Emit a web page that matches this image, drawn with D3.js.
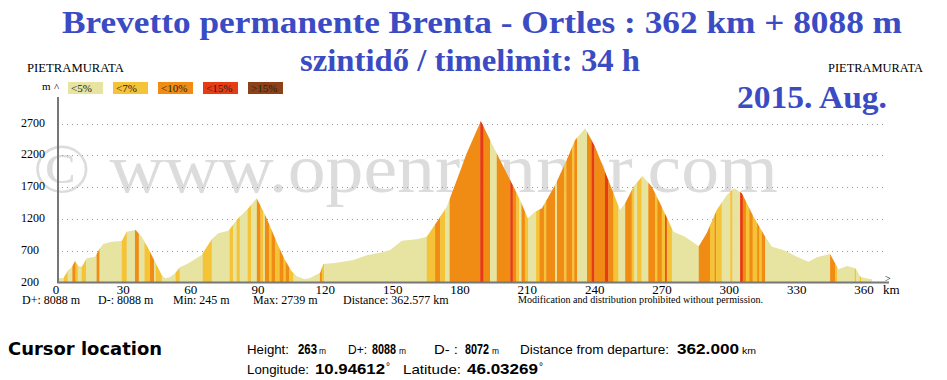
<!DOCTYPE html>
<html>
<head>
<meta charset="utf-8">
<script src="https://d3js.org/d3.v7.min.js"></script>
<style>
    html, body { margin: 0; padding: 0; background: #fff; }
    svg { display: block; }
</style>
</head>
<body>
<div id="chart"></div>
<script>
// Elevation profile (km from start, metres)
const distances = [0, 2.4, 4.6, 6.1, 7.6, 9.0, 10.6, 12.8, 16.5, 18.7, 20.2, 23.9, 28.4, 30.6, 34.6, 37.3,
    40.2, 43.2, 46.2, 47.7, 49.9, 52.1, 54.4, 58.1, 64.0, 68.5, 71.4, 75.9, 80.3, 84.8, 88.5, 92.2,
    95.0, 98.0, 101.0, 104.0, 106.4, 110.0, 112.3, 116.8, 118.2, 124.2, 131.6, 137.6, 143.5, 148.0,
    153.2, 159.8, 164.3, 168.8, 173.2, 177.7, 182.1, 188.4, 192.5, 194.7, 202.2, 205.9, 209.3, 212.6,
    215.6, 221.5, 226.0, 230.4, 234.9, 239.3, 245.2, 250.4, 252.7, 256.4, 260.4, 264.6, 269.0, 274.2,
    279.4, 285.5, 289.0, 293.5, 298.0, 301.4, 304.7, 309.9, 315.1, 318.1, 323.2, 329.2, 334.4, 338.1,
    344.0, 347.7, 351.6, 355.2, 357.5, 360.5, 362.6];
const elevations = [268, 272, 397, 439, 538, 460, 449, 580, 606, 738, 805, 842, 852, 999, 1025, 920,
    738, 527, 318, 266, 282, 345, 439, 502, 632, 879, 974, 1014, 1209, 1367, 1524, 1270,
    1040, 790, 560, 380, 300, 250, 270, 354, 491, 511, 554, 628, 669, 711,
    857, 879, 920, 1156, 1392, 1812, 2231, 2739, 2440, 2283, 1760, 1497, 1209, 1313,
    1367, 1733, 2074, 2440, 2624, 2335, 1812, 1340, 1445, 1706, 1875, 1706, 1392, 999,
    920, 770, 973, 1340, 1576, 1681, 1603, 1235, 920, 763, 711, 606, 527, 596,
    648, 407, 460, 423, 291, 263, 250];

// Gradient stripes: start km and class index (0 <5%, 1 <7%, 2 <10%, 3 <15%, 4 >15%)
const stripeStarts = [0, 2.6, 4.3, 6.4, 7.8, 8.8, 10.5, 12.5, 17.2, 18.5, 28.4, 30.6, 34.3, 36.0, 38.5,
    41.0, 42.8, 43.5, 46.2, 52.4, 54.2, 64.5, 68.5, 76.5, 78.0, 79.6, 81.0, 84.5, 86.0, 88.6, 90.2,
    91.5, 92.2, 94.0, 95.2, 96.8, 98.8, 100.5, 101.5, 103.0, 104.9, 116.7, 117.5, 118.6, 164.3, 168.0,
    170.3, 172.5, 174.5, 188.1, 189.6, 192.5, 195.5, 201.5, 202.6, 204.2, 205.5, 206.5, 208.0, 209.5,
    213.0, 214.5, 216.5, 217.5, 221.5, 222.3, 225.5, 226.5, 229.0, 230.0, 231.3, 235.7, 237.7, 239.0,
    243.7, 245.2, 247.5, 249.7, 252.7, 255.6, 256.8, 258.0, 260.0, 263.0, 266.0, 267.0, 269.0, 270.5,
    271.2, 273.5, 285.5, 290.5, 292.5, 293.2, 295.7, 299.5, 300.5, 303.9, 305.1, 306.5,
    308.0, 309.5, 311.5, 312.5, 313.6, 315.1, 344.0, 346.3, 347.2, 355.0, 355.6, 357.3, 357.8];
const stripeClasses = [0, 1, 0, 2, 1, 0, 1, 0, 2, 0, 1, 0, 2, 0, 1,
    2, 0, 1, 0, 1, 0, 1, 0, 1, 0, 1, 0, 1, 0, 2, 1,
    0, 2, 1, 2, 1, 2, 1, 2, 1, 0, 2, 1, 0, 1, 2,
    1, 0, 2, 3, 2, 0, 2, 3, 2, 1, 0, 2, 1, 0,
    1, 2, 1, 2, 0, 2, 1, 2, 1, 2, 0, 2, 3, 2,
    3, 2, 1, 0, 2, 1, 0, 1, 0, 2, 1, 2, 1, 3,
    1, 0, 2, 1, 2, 1, 0, 1, 0, 3, 2, 1,
    2, 1, 2, 1, 2, 0, 2, 1, 0, 1, 0, 1, 0];

const legendLabels = ["<5%", "<7%", "<10%", "<15%", ">15%"];
const legendColors = ["#e6e4a0", "#f5c337", "#f08c14", "#e63c14", "#8c4119"];

const yTicks = [200, 700, 1200, 1700, 2200, 2700];
const xTicks = [0, 30, 60, 90, 120, 150, 180, 210, 240, 270, 300, 330, 360];

const statLabels = ["D+: 8088 m", "D-: 8088 m", "Min: 245 m", "Max: 2739 m", "Distance: 362.577 km"];

const W = 947, H = 380;
const serif = "'Liberation Serif', 'Times New Roman', serif";
const blue = "#3b4bc4";

const svg = d3.select("#chart").append("svg")
    .attr("width", W)
    .attr("height", H);

const x = d3.scaleLinear().domain([0, 360]).range([58, 866]);
const y = d3.scaleLinear().domain([200, 2700]).range([282.5, 123.5]);

// Titles (widths fitted to the original)
const titles = [
    { t: "Brevetto permanente Brenta - Ortles : 362 km + 8088 m", x: 62, y: 33, w: 840 },
    { t: "szintidő / timelimit: 34 h", x: 300, y: 71, w: 340 },
    { t: "2015. Aug.", x: 737, y: 108, w: 150 }
];
svg.append("g").selectAll("text")
    .data(titles)
    .join("text")
    .attr("x", d => d.x).attr("y", d => d.y)
    .attr("textLength", d => d.w)
    .attr("lengthAdjust", "spacingAndGlyphs")
    .style("font", `bold 32px ${serif}`)
    .attr("fill", blue)
    .text(d => d.t);

// Start / finish town names
svg.append("text")
    .attr("x", 27).attr("y", 72)
    .attr("textLength", 97).attr("lengthAdjust", "spacingAndGlyphs")
    .style("font", `12px ${serif}`)
    .text("PIETRAMURATA");
svg.append("text")
    .attr("x", 828).attr("y", 72)
    .attr("textLength", 95).attr("lengthAdjust", "spacingAndGlyphs")
    .style("font", `12px ${serif}`)
    .text("PIETRAMURATA");

// Watermark
svg.append("text")
    .attr("x", 33).attr("y", 192)
    .attr("textLength", 745)
    .attr("lengthAdjust", "spacingAndGlyphs")
    .style("font", `70px ${serif}`)
    .attr("fill", "#dcdcdc")
    .text("© www.openrunner.com");

// Grid lines
svg.append("g").selectAll("line")
    .data(yTicks.slice(1))
    .join("line")
    .attr("x1", 62).attr("x2", 886)
    .attr("y1", d => Math.round(y(d)) + 0.5)
    .attr("y2", d => Math.round(y(d)) + 0.5)
    .attr("stroke", "#999")
    .attr("stroke-dasharray", "1,4");

// Profile: stripes clipped to the area under the elevation line
const profile = distances.map((d, i) => ({ km: d, ele: elevations[i] }));
const area = d3.area()
    .x(d => x(d.km))
    .y0(y(200))
    .y1(d => y(d.ele));

svg.append("clipPath").attr("id", "profile-clip")
    .append("path")
    .attr("d", area(profile));

const stripes = stripeStarts.map((s, i) => ({
    start: s,
    end: i < stripeStarts.length - 1 ? stripeStarts[i + 1] : distances[distances.length - 1],
    cls: stripeClasses[i]
}));

svg.append("g")
    .attr("clip-path", "url(#profile-clip)")
    .selectAll("rect")
    .data(stripes)
    .join("rect")
    .attr("x", d => x(d.start))
    .attr("width", d => x(d.end) - x(d.start) + 0.3)
    .attr("y", y(2800))
    .attr("height", y(200) - y(2800))
    .attr("fill", d => legendColors[d.cls]);

// Axes
svg.append("line")
    .attr("x1", 58).attr("x2", 58)
    .attr("y1", 97).attr("y2", 283)
    .attr("stroke", "#777").attr("stroke-width", 2);
svg.append("line")
    .attr("x1", 57).attr("x2", 889)
    .attr("y1", 282.5).attr("y2", 282.5)
    .attr("stroke", "#777").attr("stroke-width", 2);
svg.append("text")
    .attr("x", 885).attr("y", 282)
    .style("font", `10px ${serif}`)
    .text(">");
svg.append("text")
    .attr("x", 54).attr("y", 91)
    .style("font", `11px ${serif}`)
    .text("^");
svg.append("text")
    .attr("x", 42).attr("y", 90)
    .style("font", `11px ${serif}`)
    .text("m");

svg.append("g").selectAll("text")
    .data(yTicks)
    .join("text")
    .attr("x", 21)
    .attr("y", d => y(d) + 3)
    .style("font", `12px ${serif}`)
    .text(d => d);

svg.append("g").selectAll("text")
    .data(xTicks)
    .join("text")
    .attr("x", d => x(d) - 2)
    .attr("y", 294)
    .attr("text-anchor", "middle")
    .style("font", `13px ${serif}`)
    .text(d => d);
svg.append("text")
    .attr("x", 883).attr("y", 294)
    .style("font", `13px ${serif}`)
    .text("km");

// Legend
const legend = svg.append("g").selectAll("g")
    .data(legendLabels)
    .join("g")
    .attr("transform", (d, i) => `translate(${68 + i * 45},82)`);
legend.append("rect")
    .attr("width", 35).attr("height", 12)
    .attr("fill", (d, i) => legendColors[i]);
legend.append("text")
    .attr("x", 3).attr("y", 10)
    .style("font", `11px ${serif}`)
    .attr("fill", "#222")
    .text(d => d);

// Summary line under the axis
const statX = [22, 98, 173, 253, 343];
svg.append("g").selectAll("text")
    .data(statLabels)
    .join("text")
    .attr("x", (d, i) => statX[i])
    .attr("y", 304)
    .style("font", `12px ${serif}`)
    .text(d => d);
svg.append("text")
    .attr("x", 518).attr("y", 303)
    .attr("textLength", 245).attr("lengthAdjust", "spacingAndGlyphs")
    .style("font", `9.5px ${serif}`)
    .text("Modification and distribution prohibited without permission.");

// Cursor location block
const sans = "'Liberation Sans', Arial, sans-serif";
svg.append("text")
    .attr("x", 8).attr("y", 355)
    .attr("textLength", 154).attr("lengthAdjust", "spacingAndGlyphs")
    .style("font", "bold 17px 'DejaVu Sans', Verdana, sans-serif")
    .text("Cursor location");

// narrow font look: each piece squeezed to the width it has in the original
const cursorParts = [
    { t: "Height:", x: 247, y: 354, w: 42, s: 13, b: false },
    { t: "263", x: 298, y: 354, w: 19, s: 14, b: true },
    { t: "m", x: 319, y: 354, w: 7, s: 9, b: false },
    { t: "D+:", x: 348, y: 354, w: 19, s: 13, b: false },
    { t: "8088", x: 372, y: 354, w: 24, s: 14, b: true },
    { t: "m", x: 399, y: 354, w: 7, s: 9, b: false },
    { t: "D- :", x: 434, y: 354, w: 24, s: 13, b: false },
    { t: "8072", x: 465, y: 354, w: 24, s: 14, b: true },
    { t: "m", x: 492, y: 354, w: 7, s: 9, b: false },
    { t: "Distance from departure:", x: 520, y: 354, w: 149, s: 13, b: false },
    { t: "362.000", x: 677, y: 354, w: 62, s: 14, b: true },
    { t: "km", x: 742, y: 354, w: 14, s: 9, b: false },
    { t: "Longitude:", x: 247, y: 374, w: 62, s: 13, b: false },
    { t: "10.94612", x: 315, y: 374, w: 70, s: 14, b: true },
    { t: "°", x: 386, y: 370, w: 4, s: 10, b: false },
    { t: "Latitude:", x: 403, y: 374, w: 58, s: 13, b: false },
    { t: "46.03269", x: 467, y: 374, w: 71, s: 14, b: true },
    { t: "°", x: 539, y: 370, w: 4, s: 10, b: false }
];
svg.append("g").selectAll("text")
    .data(cursorParts)
    .join("text")
    .attr("x", d => d.x)
    .attr("y", d => d.y)
    .attr("textLength", d => d.w)
    .attr("lengthAdjust", "spacingAndGlyphs")
    .style("font", d => `${d.b ? "bold " : ""}${d.s}px ${sans}`)
    .text(d => d.t);
</script>
</body>
</html>
